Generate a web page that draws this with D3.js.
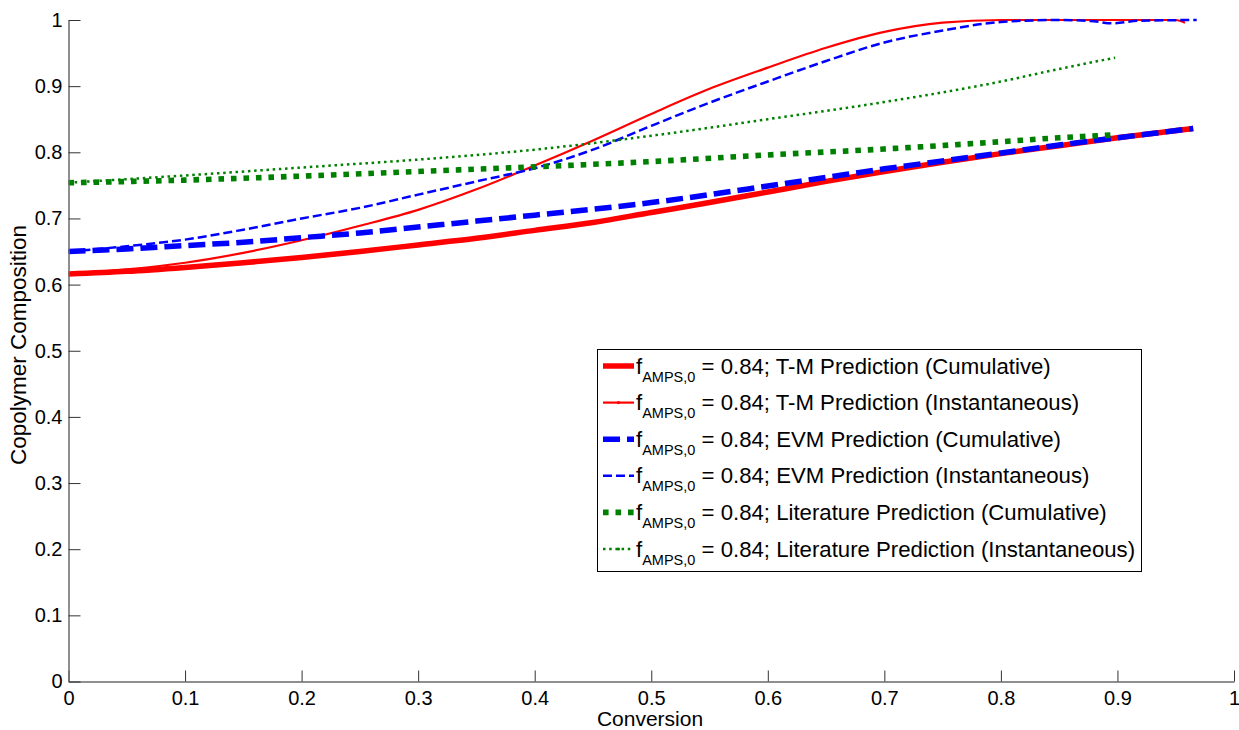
<!DOCTYPE html>
<html>
<head>
<meta charset="utf-8">
<script src="https://cdn.jsdelivr.net/npm/d3@7"></script>
<style>
  html, body { margin: 0; padding: 0; background: #fff; }
  svg { display: block; font-family: Arial, "Liberation Sans", sans-serif; }
</style>
</head>
<body>
<svg id="chart" width="1239" height="730"></svg>
<script>
// ---------- DATA ----------
const xTickValues = [0, 0.1, 0.2, 0.3, 0.4, 0.5, 0.6, 0.7, 0.8, 0.9, 1];
const xTickLabels = ["0", "0.1", "0.2", "0.3", "0.4", "0.5", "0.6", "0.7", "0.8", "0.9", "1"];
const yTickValues = [0, 0.1, 0.2, 0.3, 0.4, 0.5, 0.6, 0.7, 0.8, 0.9, 1];
const yTickLabels = ["0", "0.1", "0.2", "0.3", "0.4", "0.5", "0.6", "0.7", "0.8", "0.9", "1"];

const xLabel = "Conversion";
const yLabel = "Copolymer Composition";

// T-M Prediction (Cumulative)
const tmCumX = [0, 0.05, 0.1, 0.15, 0.2, 0.25, 0.3, 0.35, 0.4, 0.45, 0.5, 0.55, 0.6, 0.65, 0.7, 0.75, 0.8, 0.85, 0.9, 0.965];
const tmCumY = [0.616, 0.620, 0.626, 0.633, 0.641, 0.650, 0.660, 0.670, 0.682, 0.694, 0.709, 0.724, 0.740, 0.756, 0.771, 0.785, 0.798, 0.810, 0.822, 0.836];

// T-M Prediction (Instantaneous)
const tmInstX = [0, 0.05, 0.1, 0.15, 0.2, 0.25, 0.3, 0.35, 0.4, 0.45, 0.5, 0.55, 0.6, 0.65, 0.7, 0.75, 0.8, 0.85, 0.9, 0.95, 0.958];
const tmInstY = [0.616, 0.623, 0.633, 0.648, 0.667, 0.689, 0.713, 0.744, 0.780, 0.818, 0.858, 0.896, 0.928, 0.958, 0.982, 0.996, 1.0, 1.0, 1.0, 1.0, 0.996];

// EVM Prediction (Cumulative)
const evmCumX = [0, 0.05, 0.1, 0.15, 0.2, 0.25, 0.3, 0.35, 0.4, 0.45, 0.5, 0.55, 0.6, 0.65, 0.7, 0.75, 0.8, 0.85, 0.9, 0.965];
const evmCumY = [0.650, 0.654, 0.659, 0.664, 0.671, 0.678, 0.687, 0.696, 0.705, 0.714, 0.724, 0.736, 0.749, 0.762, 0.775, 0.787, 0.799, 0.811, 0.822, 0.836];

// EVM Prediction (Instantaneous)
const evmInstX = [0, 0.05, 0.1, 0.15, 0.2, 0.25, 0.3, 0.35, 0.4, 0.45, 0.5, 0.55, 0.6, 0.65, 0.7, 0.75, 0.8, 0.85, 0.88, 0.895, 0.92, 0.968];
const evmInstY = [0.650, 0.658, 0.668, 0.683, 0.700, 0.716, 0.736, 0.756, 0.776, 0.804, 0.840, 0.875, 0.907, 0.938, 0.966, 0.984, 0.997, 1.0, 0.998, 0.995, 0.999, 1.0];

// Literature Prediction (Cumulative)
const litCumX = [0, 0.1, 0.2, 0.3, 0.4, 0.5, 0.6, 0.7, 0.8, 0.85, 0.894];
const litCumY = [0.754, 0.758, 0.764, 0.771, 0.778, 0.786, 0.796, 0.805, 0.816, 0.822, 0.826];

// Literature Prediction (Instantaneous)
const litInstX = [0, 0.1, 0.2, 0.3, 0.4, 0.5, 0.6, 0.7, 0.8, 0.85, 0.898];
const litInstY = [0.754, 0.765, 0.777, 0.789, 0.804, 0.825, 0.850, 0.876, 0.907, 0.926, 0.943];

const legendLabels = [
  "T-M Prediction (Cumulative)",
  "T-M Prediction (Instantaneous)",
  "EVM Prediction (Cumulative)",
  "EVM Prediction (Instantaneous)",
  "Literature Prediction (Cumulative)",
  "Literature Prediction (Instantaneous)"
];
const legendPrefix = "f";
const legendSub = "AMPS,0";
const legendValue = " = 0.84; ";

// ---------- STYLES ----------
const series = [
  { xs: tmCumX,   ys: tmCumY,   color: "#ff0000", width: 5.5, dash: null,     dot: false },
  { xs: tmInstX,  ys: tmInstY,  color: "#ff0000", width: 2.2, dash: null,     dot: true },
  { xs: evmCumX,  ys: evmCumY,  color: "#0000ff", width: 5.5, dash: "17 7",   dot: true },
  { xs: evmInstX, ys: evmInstY, color: "#0000ff", width: 2.5, dash: "9 4",    dot: false },
  { xs: litCumX,  ys: litCumY,  color: "#008000", width: 5.6, dash: "5.6 6.9", dot: true },
  { xs: litInstX, ys: litInstY, color: "#008000", width: 2.5, dash: "2.5 3.7", dot: true }
];

// ---------- CHART ----------
const svg = d3.select("#chart");
const x = d3.scaleLinear().domain([0, 1]).range([68.5, 1234]);
const y = d3.scaleLinear().domain([0, 1]).range([681.5, 20]);

// lines
series.forEach(s => {
  const pts = s.xs.map((v, i) => [v, s.ys[i]]);
  svg.append("path")
    .attr("d", d3.line().x(d => x(d[0])).y(d => y(d[1])).curve(d3.curveMonotoneX)(pts))
    .attr("fill", "none")
    .attr("stroke", s.color)
    .attr("stroke-width", s.width)
    .attr("stroke-dasharray", s.dash)
    .attr("stroke-linejoin", "round");
});

// axes
const xAxis = d3.axisBottom(x)
  .tickValues(xTickValues)
  .tickFormat((d, i) => xTickLabels[i])
  .tickSizeInner(-11).tickSizeOuter(0).tickPadding(9);
const yAxis = d3.axisLeft(y)
  .tickValues(yTickValues)
  .tickFormat((d, i) => yTickLabels[i])
  .tickSizeInner(-12).tickSizeOuter(0).tickPadding(6);

const gx = svg.append("g").attr("transform", `translate(0,${y(0)})`).call(xAxis);
const gy = svg.append("g").attr("transform", `translate(${x(0)},0)`).call(yAxis);

[gx, gy].forEach(g => {
  g.select(".domain").attr("stroke", "#6a6a6a").attr("stroke-width", 1.5);
  g.selectAll(".tick line").attr("stroke", "#333").attr("stroke-width", 1);
  g.selectAll(".tick text").attr("fill", "#000").style("font-size", "20px")
    .style("font-family", "Arial, 'Liberation Sans', sans-serif");
});

// axis labels
svg.append("text")
  .attr("x", 650).attr("y", 726)
  .attr("text-anchor", "middle")
  .style("font-size", "21px")
  .text(xLabel);

svg.append("text")
  .attr("transform", "translate(26,345) rotate(-90)")
  .attr("text-anchor", "middle")
  .style("font-size", "22.5px")
  .text(yLabel);

// legend
const lg = svg.append("g");
lg.append("rect")
  .attr("x", 597.5).attr("y", 349.5)
  .attr("width", 544).attr("height", 222)
  .attr("fill", "#fff").attr("stroke", "#000").attr("stroke-width", 1);

const rowY = d3.scaleLinear().domain([0, 5]).range([366, 549]);
series.forEach((s, i) => {
  const cy = rowY(i);
  lg.append("line")
    .attr("x1", 603).attr("x2", 634).attr("y1", cy).attr("y2", cy)
    .attr("stroke", s.color).attr("stroke-width", s.width)
    .attr("stroke-dasharray", s.dash);
  if (s.dot) {
    lg.append("circle").attr("cx", 618.5).attr("cy", cy).attr("r", 1.6).attr("fill", s.color);
  }
  const t = lg.append("text")
    .attr("x", 636).attr("y", cy + 7.5)
    .style("font-size", "22.2px");
  t.append("tspan").text(legendPrefix);
  t.append("tspan").attr("dy", 8).style("font-size", "14.5px").text(legendSub);
  t.append("tspan").attr("dy", -8).text(legendValue + legendLabels[i]);
});
</script>
</body>
</html>
